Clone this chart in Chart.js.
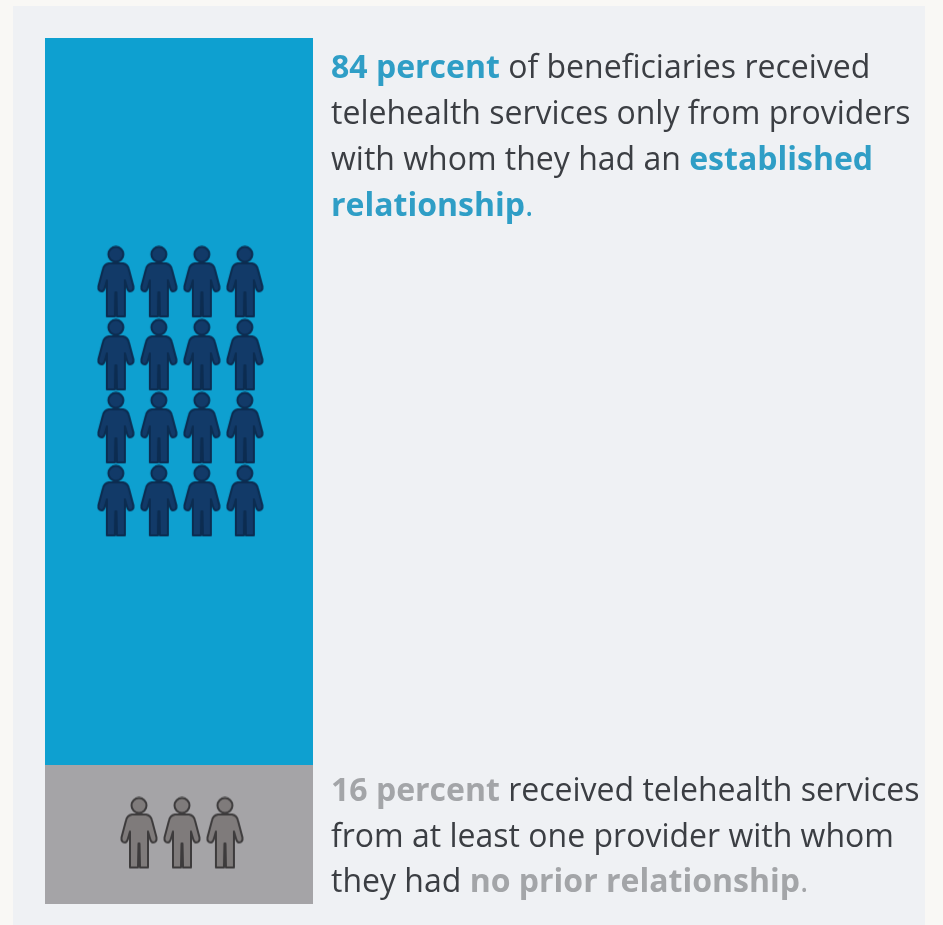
<!DOCTYPE html>
<html>
<head>
<meta charset="utf-8">
<title>Telehealth provider relationships</title>
<script src="https://cdn.jsdelivr.net/npm/chart.js@4"></script>
<style>
  html, body { margin: 0; padding: 0; background: #f9f8f5; }
  #panel { position: absolute; left: 13px; top: 6px; width: 912px; height: 919px; background: #eff1f4; }
  #chart { position: absolute; left: 0; top: 0; }
  .note { position: absolute; left: 331px; font-family: "Open Sans", sans-serif; font-size: 32px; color: #3b3e43; white-space: nowrap; }
  #note-top { top: 43px; line-height: 46px; }
  #note-bottom { top: 766px; line-height: 45.5px; }
  .blue { color: #2f9ec6; font-weight: 700; }
  .grey { color: #a3a5a8; font-weight: 700; }
  .blue-dot { color: #2f9ec6; }
  .grey-dot { color: #a3a5a8; }
</style>
</head>
<body>
<div id="panel"></div>
<canvas id="chart" width="943" height="925"></canvas>
<div class="note" id="note-top"><span class="blue">84 percent</span> of beneficiaries received<br>telehealth services only from providers<br>with whom they had an <span class="blue">established<br>relationship</span><span class="blue-dot">.</span></div>
<div class="note" id="note-bottom"><span class="grey">16 percent</span> received telehealth services<br>from at least one provider with whom<br>they had <span class="grey">no prior relationship</span><span class="grey-dot">.</span></div>
<script>
const establishedShare = [84];
const noPriorShare = [16];
const establishedPeople = 16;
const noPriorPeople = 3;

// draws one person on its own small canvas, used as a point style
function personIcon(fill, stroke) {
    const c = document.createElement('canvas');
    c.width = 38;
    c.height = 73;
    const ctx = c.getContext('2d');
    ctx.translate(1, 1);
    ctx.fillStyle = fill;
    ctx.strokeStyle = stroke;
    ctx.lineWidth = 2;
    ctx.lineJoin = 'round';
    ctx.beginPath();
    ctx.arc(18, 8, 7.5, 0, Math.PI * 2);
    ctx.fill();
    ctx.stroke();
    ctx.beginPath();
    ctx.moveTo(11, 17);
    ctx.lineTo(25, 17);
    ctx.quadraticCurveTo(30, 18, 31, 23);
    ctx.lineTo(35.5, 40);
    ctx.quadraticCurveTo(36, 45, 32, 45);
    ctx.quadraticCurveTo(30, 45, 29, 41);
    ctx.lineTo(27, 34);
    ctx.lineTo(27, 70);
    ctx.lineTo(19, 70);
    ctx.lineTo(18.5, 46);
    ctx.lineTo(17.5, 46);
    ctx.lineTo(17, 70);
    ctx.lineTo(9, 70);
    ctx.lineTo(9, 34);
    ctx.lineTo(7, 41);
    ctx.quadraticCurveTo(6, 45, 4, 45);
    ctx.quadraticCurveTo(0, 45, 0.5, 40);
    ctx.lineTo(5, 23);
    ctx.quadraticCurveTo(6, 18, 11, 17);
    ctx.closePath();
    ctx.fill();
    ctx.stroke();
    return c;
}

// lays a group of people out in rows around a centre, in axis units
function personGrid(count, perRow, cx, cy) {
    const stepX = 16.04;
    const stepY = 8.43;
    const rows = Math.ceil(count / perRow);
    const points = [];
    for (let i = 0; i < count; i++) {
        const col = i % perRow;
        const row = Math.floor(i / perRow);
        points.push({
            x: cx + (col - (perRow - 1) / 2) * stepX,
            y: cy + ((rows - 1) / 2 - row) * stepY
        });
    }
    return points;
}

// the single bar sits mid-axis so it fills the 0-100 x range
const toBar = v => ({ x: 50, y: v });

new Chart(document.getElementById('chart'), {
    data: {
        datasets: [
            {
                type: 'bar',
                label: 'No prior relationship',
                data: noPriorShare.map(toBar),
                backgroundColor: '#a5a4a7',
                categoryPercentage: 1,
                barPercentage: 1,
                order: 2
            },
            {
                type: 'bar',
                label: 'Established relationship',
                data: establishedShare.map(toBar),
                backgroundColor: '#0ea0d0',
                categoryPercentage: 1,
                barPercentage: 1,
                order: 2
            },
            {
                type: 'scatter',
                label: 'Established people',
                data: personGrid(establishedPeople, 4, 50.5, 59.2),
                yAxisID: 'yIcons',
                pointStyle: personIcon('#123a68', '#0c2c50'),
                order: 1
            },
            {
                type: 'scatter',
                label: 'No prior people',
                data: personGrid(noPriorPeople, 3, 51.1, 8.2),
                yAxisID: 'yIcons',
                pointStyle: personIcon('#7f7b7b', '#3d3b3c'),
                order: 1
            }
        ]
    },
    options: {
        responsive: false,
        animation: false,
        layout: { padding: { left: 45, right: 630, top: 38, bottom: 21 } },
        plugins: {
            legend: { display: false },
            tooltip: { enabled: false }
        },
        scales: {
            x: { type: 'linear', stacked: true, display: false, offset: false, min: 0, max: 100, ticks: { stepSize: 100 } },
            y: { stacked: true, display: false, min: 0, max: 100 },
            yIcons: { type: 'linear', display: false, min: 0, max: 100 }
        }
    }
});
</script>
</body>
</html>
